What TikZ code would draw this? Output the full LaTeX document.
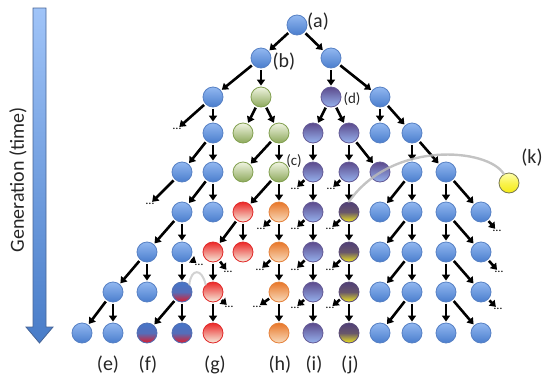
\documentclass[tikz,border=0pt]{standalone}
\usepackage{fontspec}
\setmainfont{Carlito}
\usepackage{xcolor}
\usetikzlibrary{arrows.meta, positioning}

% --- COLORES ---
\definecolor{bluetop}{RGB}{146,184,240}
\definecolor{bluebot}{RGB}{74,125,205}
\definecolor{blueline}{RGB}{86,128,196}
\definecolor{greentop}{RGB}{240,244,225}
\definecolor{greenbot}{RGB}{140,168,90}
\definecolor{greenline}{RGB}{130,160,80}
\definecolor{redtop}{RGB}{236,40,40}
\definecolor{redbot}{RGB}{246,238,222}
\definecolor{redline}{RGB}{225,40,40}
\definecolor{orangetop}{RGB}{232,118,40}
\definecolor{orangebot}{RGB}{248,220,190}
\definecolor{orangeline}{RGB}{230,130,60}
\definecolor{purpletop}{RGB}{92,74,140}
\definecolor{purplebot}{RGB}{150,178,238}
\definecolor{purpleline}{RGB}{100,90,150}
\definecolor{pytop}{RGB}{80,62,120}
\definecolor{pybot}{RGB}{240,232,30}
\definecolor{pyline}{RGB}{90,75,120}
\definecolor{brtop}{RGB}{70,118,200}
\definecolor{brbot}{RGB}{225,25,40}
\definecolor{brline}{RGB}{80,110,180}
\definecolor{yellowtop}{RGB}{255,255,170}
\definecolor{yellowbot}{RGB}{245,235,20}
\definecolor{yellowline}{RGB}{120,120,80}
\definecolor{arrowtop}{RGB}{160,196,248}
\definecolor{arrowbot}{RGB}{72,124,200}
\definecolor{arrowline}{RGB}{70,100,150}
\colorlet{bluemid}{bluetop!50!bluebot}
\colorlet{greenmid}{greentop!50!greenbot}
\colorlet{redmid}{redtop!50!redbot}
\colorlet{orangemid}{orangetop!50!orangebot}
\colorlet{purplemid}{purpletop!50!purplebot}
\colorlet{pymid}{pytop!85!pybot}
\colorlet{brmid}{brtop!90!brbot}
\colorlet{yellowmid}{yellowtop!40!yellowbot}

\begin{document}
\begin{tikzpicture}[
            x=1pt, y=-1pt,                     % coordenadas en pixeles, y hacia abajo
            cell/.style={
                circle,
                minimum size=20pt,
                inner sep=0pt,
                line width=0.8pt,
                draw=#1line,
                top color=#1top,
                bottom color=#1bot,
                middle color=#1mid
            },
            line/.style={
                draw,
                line width=2.6pt,
                -{Triangle[length=6pt, width=8pt]},
                shorten <=1.5pt,
                shorten >=1pt
            },
            dots/.style={inner sep=0.5pt, font=\fontsize{12}{12}\selectfont},
            lbl/.style={text=black!85, font=\fontsize{20}{22}\selectfont},
            smalllbl/.style={text=black!85, font=\fontsize{15}{17}\selectfont},
            transfer/.style={draw=gray!55, line width=2.4pt, line cap=round},
            genarrow/.style={draw=arrowline, line width=0.8pt, top color=arrowtop, bottom color=arrowbot}
        ]
            \useasboundingbox (0,0) rectangle (544,378);

            % --- EJE DE GENERACIONES ---
            \draw [genarrow] (33,8) -- (46,8) -- (46,327) -- (53,327) -- (39.5,343) -- (26,327) -- (33,327) -- cycle;
            \node [lbl, rotate=90] (gen) at (18,180) {Generation (time)};

            % --- NODOS (una fila por generacion) ---
            \node [cell=blue] (n0-297) at (297,25) {};
            \foreach \x/\col in {261/blue, 331/blue}
                \node [cell=\col] (n1-\x) at (\x,58) {};
            \foreach \x/\col in {213/blue, 261/green, 331/purple, 380/blue}
                \node [cell=\col] (n2-\x) at (\x,97) {};
            \foreach \x/\col in {213/blue, 243/green, 279/green, 313/purple, 349/purple, 380/blue, 412/blue}
                \node [cell=\col] (n3-\x) at (\x,133) {};
            \foreach \x/\col in {182/blue, 213/blue, 243/green, 279/green, 313/purple, 349/purple, 380/purple, 412/blue, 446/blue}
                \node [cell=\col] (n4-\x) at (\x,172) {};
            \foreach \x/\col in {182/blue, 213/blue, 243/red, 279/orange, 313/purple, 349/py, 380/blue, 412/blue, 446/blue, 481/blue}
                \node [cell=\col] (n5-\x) at (\x,212) {};
            \foreach \x/\col in {147/blue, 182/blue, 213/red, 243/red, 279/orange, 313/purple, 349/py, 380/blue, 412/blue, 446/blue, 481/blue}
                \node [cell=\col] (n6-\x) at (\x,252) {};
            \foreach \x/\col in {113/blue, 147/blue, 182/br, 213/red, 279/orange, 313/purple, 349/py, 380/blue, 412/blue, 446/blue, 481/blue}
                \node [cell=\col] (n7-\x) at (\x,292) {};
            \foreach \x/\col in {82/blue, 113/blue, 147/br, 182/br, 213/red, 279/orange, 313/purple, 349/py, 380/blue, 412/blue, 446/blue, 481/blue}
                \node [cell=\col] (n8-\x) at (\x,333) {};
            \node [cell=yellow] (k) at (509,183) {};

            % --- LINAJES CORTADOS ---
            \foreach \n/\x/\y in {dt3-177/177/129, dt5-150/150/204, dt5-295/295/189, dt5-331/331/189,
                                 dt6-261/261/229, dt6-295/295/229, dt6-330/330/229, dt6-497/497/231,
                                 dt7-199/199/265, dt7-228/228/272, dt7-260/260/270, dt7-295/295/270,
                                 dt7-330/330/270, dt7-499/499/272, dt8-228/229/307, dt8-257/257/307,
                                 dt8-295/295/308, dt8-330/330/308, dt8-498/498/309}
                \node [dots] (\n) at (\x,\y) {\dots};

            % --- ENLACES ---
            \foreach \a/\b in {n0-297/n1-261, n0-297/n1-331,
                    n1-261/n2-213, n1-261/n2-261, n1-331/n2-331, n1-331/n2-380,
                    n2-213/dt3-177, n2-213/n3-213, n2-261/n3-243, n2-261/n3-279,
                    n2-331/n3-313, n2-331/n3-349, n2-380/n3-380, n2-380/n3-412,
                    n3-213/n4-182, n3-213/n4-213, n3-279/n4-243, n3-279/n4-279, n3-313/n4-313,
                    n3-349/n4-349, n3-349/n4-380, n3-412/n4-412, n3-412/n4-446,
                    n4-182/dt5-150, n4-213/n5-182, n4-213/n5-213, n4-279/n5-243, n4-279/n5-279,
                    n4-313/dt5-295, n4-313/n5-313, n4-349/dt5-331, n4-349/n5-349,
                    n4-412/n5-380, n4-412/n5-412, n4-446/n5-446, n4-446/n5-481,
                    n5-182/n6-147, n5-182/n6-182, n5-243/n6-213, n5-243/n6-243,
                    n5-279/dt6-261, n5-279/n6-279, n5-313/dt6-295, n5-313/n6-313,
                    n5-349/dt6-330, n5-349/n6-349, n5-412/n6-380, n5-412/n6-412,
                    n5-446/n6-446, n5-446/n6-481, n5-481/dt6-497,
                    n6-147/n7-113, n6-147/n7-147, n6-182/n7-182, n6-182/dt7-199,
                    n6-213/n7-213, n6-213/dt7-228, n6-279/dt7-260, n6-279/n7-279,
                    n6-313/dt7-295, n6-313/n7-313, n6-349/dt7-330, n6-349/n7-349,
                    n6-412/n7-380, n6-412/n7-412, n6-446/n7-446, n6-446/n7-481, n6-481/dt7-499,
                    n7-113/n8-82, n7-113/n8-113, n7-182/n8-147, n7-182/n8-182,
                    n7-213/n8-213, n7-213/dt8-228, n7-279/dt8-257, n7-279/n8-279,
                    n7-313/dt8-295, n7-313/n8-313, n7-349/dt8-330, n7-349/n8-349,
                    n7-412/n8-380, n7-412/n8-412, n7-446/n8-446, n7-446/n8-481, n7-481/dt8-498}
                \path [line] (\a) -- (\b);

            % --- TRANSFERENCIAS ---
            \draw [transfer, opacity=0.85] (k.120) .. controls (488,148) and (392,140) .. (n5-349.north);
            \draw [transfer, draw=gray!35, line width=2pt] (n7-213.135) .. controls (202,268) and (191,268) .. (n7-182.45);

            % --- ETIQUETAS ---
            \node [lbl] (la) at (318,22) {(a)};
            \node [lbl] (lb) at (284,62) {(b)};
            \node [smalllbl] (lc) at (294,161) {(c)};
            \node [smalllbl] (ld) at (352,99) {(d)};
            \node [lbl] (lk) at (532,158) {(k)};
            \node [lbl] (le) at (108,365) {(e)};
            \node [lbl] (lf) at (148,365) {(f)};
            \node [lbl] (lg) at (215,365) {(g)};
            \node [lbl] (lh) at (280,365) {(h)};
            \node [lbl] (li) at (314,365) {(i)};
            \node [lbl] (lj) at (350,365) {(j)};
        \end{tikzpicture}
\end{document}
